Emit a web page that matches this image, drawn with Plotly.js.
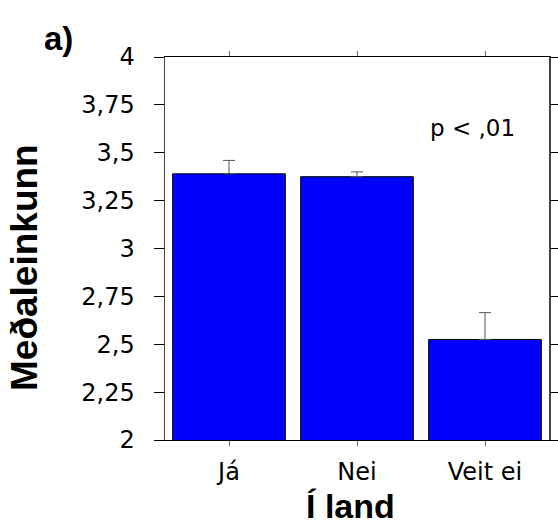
<!DOCTYPE html>
<html>
<head>
<meta charset="utf-8">
<script src="https://cdn.plot.ly/plotly-3.0.1.min.js"></script>
<style>
html,body{margin:0;padding:0;background:#fff;}
#chart{width:558px;height:527px;}
</style>
</head>
<body>
<div id="chart"></div>
<script>
// Data
var categories = ['Já', 'Nei', 'Veit ei'];
var means = [3.39, 3.375, 2.525];
var errors = [0.07, 0.025, 0.14];
var yTickVals = [2, 2.25, 2.5, 2.75, 3, 3.25, 3.5, 3.75, 4];
var yTickText = ['2', '2,25', '2,5', '2,75', '3', '3,25', '3,5', '3,75', '4'];
var yTitle = 'Meðaleinkunn';
var xTitle = 'Í land';
var panelLabel = 'a)';
var pText = 'p < ,01';

var L = 165, R = 9, T = 57, B = 87;
var W = 558, H = 527;
var pw = W - L - R, ph = H - T - B;
function px(x) { return (x - L) / pw; }
function py(y) { return (H - B - y) / ph; }

var tickFont = {family: 'DejaVu Sans', size: 24, color: '#000'};
var boldFam = 'Liberation Sans, Arial, sans-serif';

var trace = {
  type: 'bar',
  x: categories,
  y: means,
  width: 0.88,
  marker: {color: '#0000ff', line: {color: '#000', width: 1}},
  error_y: {type: 'data', array: errors, symmetric: false, arrayminus: [0, 0, 0], visible: true, color: '#555', thickness: 1, width: 6},
  hoverinfo: 'skip'
};

var layout = {
  width: W, height: H,
  margin: {l: L, r: R, t: T, b: B, pad: 0},
  paper_bgcolor: '#fff', plot_bgcolor: '#fff',
  showlegend: false,
  xaxis: {
    type: 'category', range: [-0.5, 2.5],
    showline: true, linecolor: '#000', linewidth: 1,
    mirror: 'allticks', ticks: 'outside', ticklen: 5, tickcolor: '#666', tickwidth: 1,
    tickfont: tickFont, ticklabelstandoff: 5,
    showgrid: false, zeroline: false, fixedrange: true
  },
  yaxis: {
    range: [2, 4],
    tickvals: yTickVals, ticktext: yTickText,
    showline: true, linecolor: '#444', linewidth: 1.5,
    mirror: 'allticks', ticks: 'outside', ticklen: 10, tickcolor: '#000', tickwidth: 1,
    tickfont: tickFont, ticklabelstandoff: 14,
    showgrid: false, zeroline: false, fixedrange: true
  },
  annotations: [
    {text: yTitle, xref: 'paper', yref: 'paper', x: px(24), y: py(268), xanchor: 'center', yanchor: 'middle', textangle: -90, showarrow: false, font: {family: boldFam, size: 37, color: '#000', weight: 'bold'}},
    {text: xTitle, xref: 'paper', yref: 'paper', x: px(350), y: py(527), xanchor: 'center', yanchor: 'bottom', showarrow: false, font: {family: boldFam, size: 34, color: '#000', weight: 'bold'}},
    {text: panelLabel, xref: 'paper', yref: 'paper', x: px(58), y: py(38), xanchor: 'center', yanchor: 'middle', showarrow: false, font: {family: boldFam, size: 33, color: '#000', weight: 'bold'}},
    {text: pText, xref: 'paper', yref: 'paper', x: px(472), y: py(128), xanchor: 'center', yanchor: 'middle', showarrow: false, font: {family: 'DejaVu Sans', size: 23, color: '#000'}}
  ]
};

Plotly.newPlot('chart', [trace], layout, {displayModeBar: false, staticPlot: true});
</script>
</body>
</html>
